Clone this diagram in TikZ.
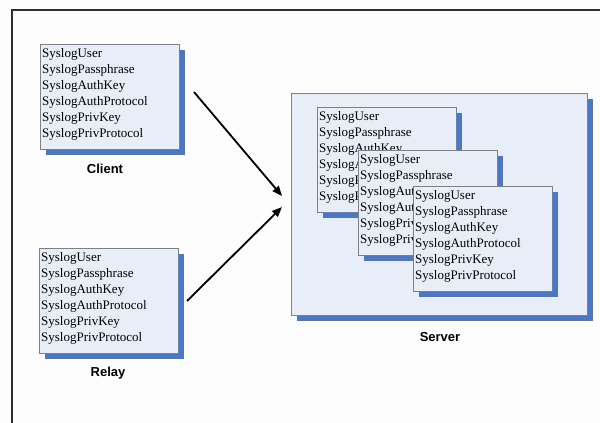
\documentclass[tikz,border=0pt]{standalone}
\usepackage{fontspec}
\setmainfont{Liberation Serif}
\newfontfamily\labelfont{Liberation Sans}
\usetikzlibrary{arrows.meta,shadows}
\definecolor{boxfill}{HTML}{E8EEF8}
\definecolor{boxline}{HTML}{808080}
\definecolor{shadowblue}{HTML}{4A78C8}
\definecolor{framegray}{HTML}{2E2E2E}
\definecolor{paper}{HTML}{FDFDFD}
\newcommand\syslogfields{SyslogUser\\SyslogPassphrase\\SyslogAuthKey\\SyslogAuthProtocol\\SyslogPrivKey\\SyslogPrivProtocol}
\begin{document}
\begin{tikzpicture}[x=1pt,y=-1pt,
  panel/.style={draw=boxline, line width=0.9pt, fill=boxfill, anchor=north west,
    inner sep=0pt, minimum width=139pt, minimum height=105pt,
    drop shadow={shadow xshift=6pt, shadow yshift=-6pt, fill=shadowblue, opacity=1}},
  entries/.style={anchor=north west, inner sep=0pt, align=left,
    font=\fontsize{13}{16}\selectfont},
  tag/.style={font=\labelfont\bfseries\fontsize{13}{15}\selectfont, inner sep=0pt},
  flow/.style={line width=1.8pt, -{Triangle[length=10pt,width=8pt]}}]
% canvas and frame
\useasboundingbox (0,0) rectangle (600,423);
\fill[paper] (0,0) rectangle (600,423);
\draw[framegray, line width=2pt] (12,423) -- (12,10) -- (600,10);

% client
\node[panel] (client) at (40,44) {};
\node[entries] (clienttext) at ([shift={(2,4.6)}]client.north west) {\syslogfields};
\node[tag] (clientlabel) at (105,169) {Client};

% relay
\node[panel] (relay) at (39,248) {};
\node[entries] (relaytext) at ([shift={(2,4.6)}]relay.north west) {\syslogfields};
\node[tag] (relaylabel) at (108,373) {Relay};

% server with three stacked credential sets
\node[panel, minimum width=296pt, minimum height=222pt] (server) at (291,93) {};
\node[panel] (setone) at (317,107) {};
\node[entries] (setonetext) at ([shift={(2,4.6)}]setone.north west) {\syslogfields};
\node[panel] (settwo) at (358,150) {};
\node[entries] (settwotext) at ([shift={(2,4.6)}]settwo.north west) {\syslogfields};
\node[panel] (setthree) at (413,186) {};
\node[entries] (setthreetext) at ([shift={(2,4.6)}]setthree.north west) {\syslogfields};
\node[tag] (serverlabel) at (440,337) {Server};

% message flows
\coordinate (clientout) at (194,92);
\coordinate (clientin) at (282,196);
\coordinate (relayout) at (187,301);
\coordinate (relayin) at (282,207);
\draw[flow] (clientout) -- (clientin);
\draw[flow] (relayout) -- (relayin);
\end{tikzpicture}
\end{document}
